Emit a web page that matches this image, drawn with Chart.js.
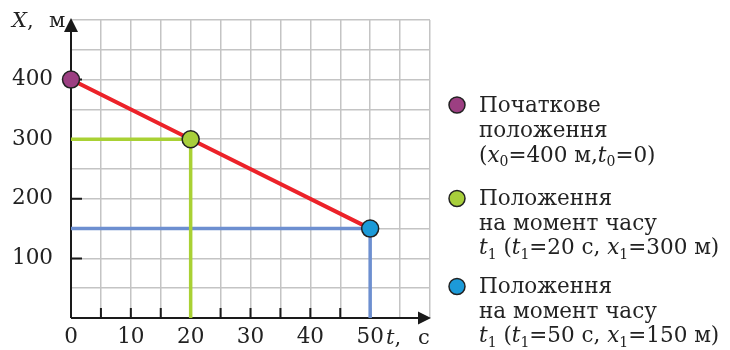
<!DOCTYPE html>
<html>
<head>
<meta charset="utf-8">
<script src="https://cdn.jsdelivr.net/npm/chart.js@4.4.1/dist/chart.umd.min.js"></script>
<style>
html,body{margin:0;padding:0;background:#fff;}
#wrap{position:relative;width:730px;height:350px;}
</style>
</head>
<body>
<div id="wrap"><canvas id="c" width="730" height="350"></canvas></div>
<script>
// ---- data ----
const times = [0, 20, 50];            // t, c
const positions = [400, 300, 150];    // x, м
const xTickLabels = [0, 10, 20, 30, 40, 50];
const yTickLabels = [100, 200, 300, 400];
const xMax = 60, yMax = 500;

// ---- styles ----
const pointColors = ['#9c3f82', '#a8cf3b', '#1c9ad8'];
const lineRed = '#ec2229';
const guideColors = ['#a9d134', '#6d8fd0'];
const gridColor = '#c4c4c4';
const FONT = '"DejaVu Serif", serif';
const LEG = 21.5;
const TICK = 21.5;

const pts = times.map((t, i) => ({x: t, y: positions[i]}));
const guide = i => [{x: 0, y: positions[i]}, {x: times[i], y: positions[i]}, {x: times[i], y: 0}];

function drawRich(ctx, segs, x, y, size) {
  ctx.textBaseline = 'alphabetic';
  ctx.textAlign = 'left';
  for (const s of segs) {
    const sz = s.sub ? Math.round(size * 0.66) : size;
    ctx.font = (s.i ? 'italic ' : '') + sz + 'px ' + FONT;
    if (s.at !== undefined) x = s.at;
    ctx.fillText(s.t, x, y + (s.sub ? size * 0.22 : 0));
    x += ctx.measureText(s.t).width;
  }
  return x;
}

const legendGroups = [
  {color: pointColors[0], lines: [
    [{t: 'Початкове'}],
    [{t: 'положення'}],
    [{t: '('}, {t: 'x', i: true}, {t: '0', sub: true}, {t: '=' + positions[0] + ' м,'}, {t: 't', i: true}, {t: '0', sub: true}, {t: '=' + times[0] + ')'}]
  ], base: [111.5, 136.5, 161.5]},
  {color: pointColors[1], lines: [
    [{t: 'Положення'}],
    [{t: 'на момент часу'}],
    [{t: 't', i: true}, {t: '1', sub: true}, {t: ' ('}, {t: 't', i: true}, {t: '1', sub: true}, {t: '=' + times[1] + ' с, '}, {t: 'x', i: true}, {t: '1', sub: true}, {t: '=' + positions[1] + ' м)'}]
  ], base: [205, 229.5, 254]},
  {color: pointColors[2], lines: [
    [{t: 'Положення'}],
    [{t: 'на момент часу'}],
    [{t: 't', i: true}, {t: '1', sub: true}, {t: ' ('}, {t: 't', i: true}, {t: '1', sub: true}, {t: '=' + times[2] + ' с, '}, {t: 'x', i: true}, {t: '1', sub: true}, {t: '=' + positions[2] + ' м)'}]
  ], base: [293, 317.5, 342]}
];

const axesPlugin = {
  id: 'axesPlugin',
  beforeDatasetsDraw(chart) {
    const ctx = chart.ctx, xs = chart.scales.x, ys = chart.scales.y;
    const x0 = xs.getPixelForValue(0), y0 = ys.getPixelForValue(0);
    ctx.save();
    ctx.strokeStyle = '#1a1a1a';
    ctx.fillStyle = '#1a1a1a';
    ctx.lineWidth = 2;
    ctx.beginPath();
    ctx.moveTo(x0, y0); ctx.lineTo(chart.chartArea.right - 8, y0);
    ctx.moveTo(x0, y0); ctx.lineTo(x0, chart.chartArea.top + 8);
    ctx.stroke();
    const r = chart.chartArea.right;
    ctx.beginPath();
    ctx.moveTo(r + 1, y0); ctx.lineTo(r - 12, y0 - 6.5); ctx.lineTo(r - 12, y0 + 6.5); ctx.closePath(); ctx.fill();
    const t = chart.chartArea.top;
    ctx.beginPath();
    ctx.moveTo(x0, t - 2); ctx.lineTo(x0 - 7, t + 12); ctx.lineTo(x0 + 7, t + 12); ctx.closePath(); ctx.fill();
    ctx.lineWidth = 2;
    ctx.beginPath();
    for (let v = 5; v <= 50; v += 5) {
      const px = xs.getPixelForValue(v);
      ctx.moveTo(px, y0); ctx.lineTo(px, y0 - 10);
    }
    for (const v of yTickLabels) {
      const py = ys.getPixelForValue(v);
      ctx.moveTo(x0, py); ctx.lineTo(x0 + 11, py);
    }
    ctx.stroke();
    ctx.restore();
  },
  afterDraw(chart) {
    const ctx = chart.ctx;
    ctx.save();
    ctx.fillStyle = '#222';
    drawRich(ctx, [{t: 'X', i: true}, {t: ','}, {t: 'м', at: 49}], 12, 27, 21);
    drawRich(ctx, [{t: 't', i: true, at: 386}, {t: ','}, {t: 'с', at: 418}], 386, 344, 21);
    for (const g of legendGroups) {
      const cy = g.base[0] - 6.5;
      ctx.beginPath();
      ctx.arc(457, cy, 8, 0, Math.PI * 2);
      ctx.fillStyle = g.color; ctx.fill();
      ctx.lineWidth = 1.5; ctx.strokeStyle = '#222'; ctx.stroke();
      ctx.fillStyle = '#222';
      g.lines.forEach((ln, k) => drawRich(ctx, ln, 479, g.base[k], LEG));
    }
    ctx.restore();
  }
};

new Chart(document.getElementById('c'), {
  type: 'line',
  data: {
    datasets: [
      {data: pts, showLine: false, pointRadius: 8.5, pointHoverRadius: 8.5, clip: false,
       pointBackgroundColor: pointColors, pointBorderColor: '#222', pointBorderWidth: 1.5, order: 0},
      {data: pts, borderColor: lineRed, borderWidth: 4, pointRadius: 0, order: 1},
      {data: guide(1), borderColor: guideColors[0], borderWidth: 3.5, pointRadius: 0, order: 2},
      {data: guide(2), borderColor: guideColors[1], borderWidth: 3.5, pointRadius: 0, order: 3}
    ]
  },
  options: {
    responsive: false,
    animation: false,
    events: [],
    layout: {padding: {left: 0, top: 20, right: 300, bottom: 0}},
    plugins: {legend: {display: false}, tooltip: {enabled: false}},
    scales: {
      x: {
        type: 'linear', min: 0, max: xMax,
        afterFit(s) { s.height = 32; s.paddingLeft = 0; s.paddingRight = 0; },
        border: {display: false},
        grid: {color: gridColor, lineWidth: 1.5, drawTicks: false},
        ticks: {stepSize: 5, padding: 7, maxRotation: 0, autoSkip: false, color: '#222',
          font: {family: FONT, size: TICK},
          callback: v => xTickLabels.includes(v) ? String(v) : ''}
      },
      y: {
        type: 'linear', min: 0, max: yMax,
        afterFit(s) { s.width = 71; s.paddingTop = 0; s.paddingBottom = 0; },
        border: {display: false},
        grid: {color: gridColor, lineWidth: 1.5, drawTicks: false},
        ticks: {stepSize: 50, padding: 18, autoSkip: false, color: '#222',
          font: {family: FONT, size: TICK},
          callback: v => yTickLabels.includes(v) ? String(v) : ''}
      }
    }
  },
  plugins: [axesPlugin]
});
</script>
</body>
</html>
